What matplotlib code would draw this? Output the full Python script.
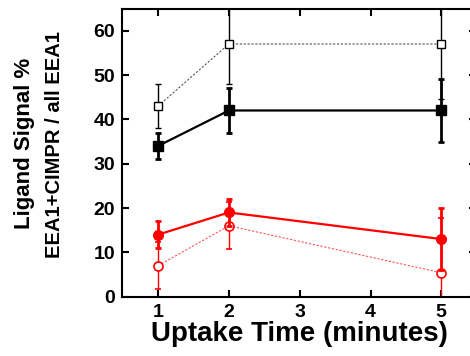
import matplotlib
matplotlib.use("Agg")
import matplotlib.pyplot as plt

plt.rcParams["font.family"] = ["Liberation Sans", "DejaVu Sans"]
plt.rcParams["font.weight"] = "bold"

minutes = [1, 2, 5]
cimpr_filled = [34, 42, 42]
cimpr_filled_err = [3, 5, 7]
cimpr_open = [43, 57, 57]
cimpr_open_err = [5, 9, 12.5]
ligand_filled = [14, 19, 13]
ligand_filled_err = [3, 3, 7]
ligand_open = [7, 16, 5.4]
ligand_open_err = [5.3, 5.3, 12.3]

x_ticks = [1, 2, 3, 4, 5]
y_ticks = [0, 10, 20, 30, 40, 50, 60]

fig = plt.figure(figsize=(4.7, 3.56), dpi=100)
ax = fig.add_axes([122 / 470, 1 - 296.7 / 356, 354 / 470, (296.7 - 8.5) / 356])

# open (dotted) series first, filled on top
ax.errorbar(minutes, cimpr_open, yerr=cimpr_open_err, color="#555555", ls=(0, (2, 1.5)), lw=0.8,
            elinewidth=1.0, ecolor="black", capsize=2.5, capthick=1.0,
            marker="s", ms=6, mfc="white", mec="black", mew=1.0, zorder=2)
ax.errorbar(minutes, ligand_open, yerr=ligand_open_err, color="#ff5555", ls=(0, (2, 1.5)), lw=0.8,
            elinewidth=1.0, ecolor="red", capsize=2.5, capthick=1.0,
            marker="o", ms=6.5, mfc="white", mec="red", mew=1.2, zorder=2)
ax.errorbar(minutes, cimpr_filled, yerr=cimpr_filled_err, color="black", lw=1.6,
            elinewidth=2.0, capsize=2.5, capthick=2.0,
            marker="s", ms=6.5, mfc="black", mec="black", zorder=3)
ax.errorbar(minutes, ligand_filled, yerr=ligand_filled_err, color="red", lw=1.6,
            elinewidth=2.0, capsize=2.5, capthick=2.0,
            marker="o", ms=7, mfc="red", mec="red", zorder=3)

ax.set_xlim(0.49, 5.49)
ax.set_ylim(0, 65)
ax.set_xticks(x_ticks)
ax.set_yticks(y_ticks)
ax.tick_params(direction="in", length=5, width=1.5, labelsize=14,
               top=True, right=True, pad=5)
for lbl in ax.get_xticklabels() + ax.get_yticklabels():
    lbl.set_fontweight("bold")
for sp in ax.spines.values():
    sp.set_linewidth(1.5)

ax.set_xlabel("Uptake Time (minutes)", fontsize=20, fontweight="bold", labelpad=0)
fig.text(24.5 / 470, 1 - 143 / 356, "Ligand Signal %", rotation=90, ha="center", va="center",
         fontsize=16, fontweight="bold")
fig.text(55 / 470, 1 - 145 / 356, "EEA1+CIMPR / all EEA1", rotation=90, ha="center", va="center",
         fontsize=14.5, fontweight="bold")

fig.savefig("out.png", dpi=100)
